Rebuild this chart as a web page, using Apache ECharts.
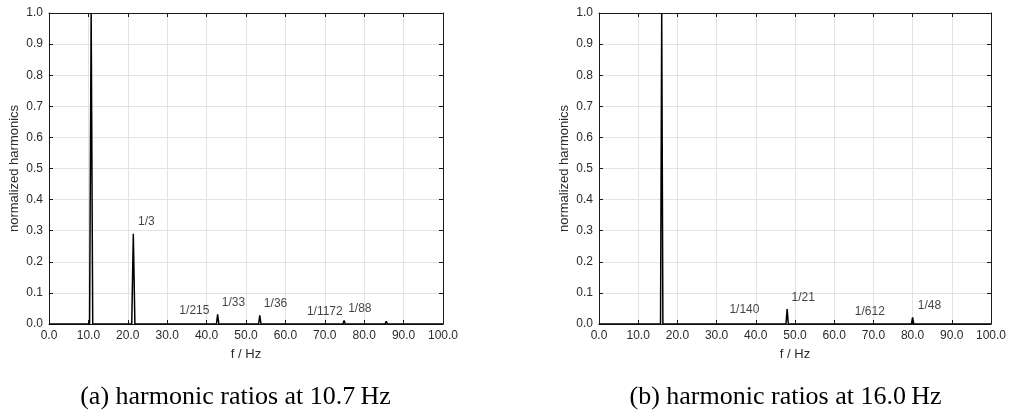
<!DOCTYPE html>
<html>
<head>
<meta charset="utf-8">
<script src="https://cdn.jsdelivr.net/npm/echarts@6/dist/echarts.min.js"></script>
<style>html,body{margin:0;padding:0;background:#fff;}#c{width:1009px;height:412px;}</style>
</head>
<body>
<div id="c"></div>
<script>
// ---- data: spectrum (a) at 10.7 Hz ----
const freqA = [0, 10.3, 10.7, 11.1, 21.0, 21.4, 21.8, 31.8, 32.1, 32.4, 42.5, 42.8, 43.1, 53.2, 53.5, 53.8, 63.9, 64.2, 64.5, 74.6, 74.9, 75.2, 85.3, 85.6, 85.9, 100];
const ampA  = [0, 0, 1.0, 0, 0, 0.29, 0, 0, 0.005, 0, 0, 0.031, 0, 0, 0.028, 0, 0, 0.001, 0, 0, 0.011, 0, 0, 0.009, 0, 0];
const labelsA  = ['1/3', '1/215', '1/33', '1/36', '1/1172', '1/88'];
const labelXA  = [24.7, 36.9, 46.8, 57.5, 70.0, 78.9];
const labelYA  = [0.328, 0.042, 0.068, 0.064, 0.039, 0.048];

// ---- data: spectrum (b) at 16.0 Hz ----
const freqB = [0, 15.7, 16.0, 16.3, 31.7, 32.0, 32.3, 47.7, 48.0, 48.3, 63.7, 64.0, 64.3, 79.7, 80.0, 80.3, 100];
const ampB  = [0, 0, 1.0, 0, 0, 0.006, 0, 0, 0.048, 0, 0, 0.0016, 0, 0, 0.021, 0, 0];
const labelsB  = ['1/140', '1/21', '1/612', '1/48'];
const labelXB  = [37.1, 52.1, 69.1, 84.3];
const labelYB  = [0.045, 0.085, 0.038, 0.059];

// ---- axes ticks ----
const xMin = 0, xMax = 100, xStep = 10;
const yMin = 0, yMax = 1, yStep = 0.1;
const xName = 'f / Hz';
const yName = 'normalized harmonics';
const captions = ['(a) harmonic ratios at 10.7\u2009Hz', '(b) harmonic ratios at 16.0\u2009Hz'];

const FONT = 'Liberation Sans';
const axisLineColor = '#1a1a1a';
const gridColor = '#e3e3e3';
const textColor = '#2b2b2b';

function xAxes(gi) {
  return [
    {
      type: 'value', gridIndex: gi, min: xMin, max: xMax, interval: xStep, position: 'bottom',
      name: xName, nameLocation: 'middle', nameGap: 24,
      nameTextStyle: { fontFamily: FONT, fontSize: 13, color: textColor },
      axisLine: { show: true, onZero: false, lineStyle: { color: axisLineColor, width: 1 } },
      axisTick: { show: true, inside: true, length: 4, lineStyle: { color: axisLineColor } },
      axisLabel: { fontFamily: FONT, fontSize: 12, color: textColor, margin: 6, formatter: v => v.toFixed(1) },
      splitLine: { show: true, lineStyle: { color: gridColor, width: 1 } }
    },
    {
      type: 'value', gridIndex: gi, min: xMin, max: xMax, interval: xStep, position: 'top',
      axisLine: { show: true, onZero: false, lineStyle: { color: axisLineColor, width: 1 } },
      axisTick: { show: true, inside: true, length: 4, lineStyle: { color: axisLineColor } },
      axisLabel: { show: false }, splitLine: { show: false }
    }
  ];
}
function yAxes(gi) {
  return [
    {
      type: 'value', gridIndex: gi, min: yMin, max: yMax, interval: yStep, position: 'left',
      name: yName, nameLocation: 'middle', nameGap: 28,
      nameTextStyle: { fontFamily: FONT, fontSize: 13, color: textColor },
      axisLine: { show: true, onZero: false, lineStyle: { color: axisLineColor, width: 1 } },
      axisTick: { show: true, inside: true, length: 4, lineStyle: { color: axisLineColor } },
      axisLabel: { fontFamily: FONT, fontSize: 12, color: textColor, margin: 6, formatter: v => v.toFixed(1) },
      splitLine: { show: true, lineStyle: { color: gridColor, width: 1 } }
    },
    {
      type: 'value', gridIndex: gi, min: yMin, max: yMax, interval: yStep, position: 'right',
      axisLine: { show: true, onZero: false, lineStyle: { color: axisLineColor, width: 1 } },
      axisTick: { show: true, inside: true, length: 4, lineStyle: { color: axisLineColor } },
      axisLabel: { show: false }, splitLine: { show: false }
    }
  ];
}
function zip(a, b) { return a.map((v, i) => [v, b[i]]); }
function labelSeries(xi, yi, xs, ys, names) {
  return {
    type: 'scatter', xAxisIndex: xi, yAxisIndex: yi, symbolSize: 2,
    itemStyle: { color: 'rgba(0,0,0,0)' },
    z: 5, silent: true,
    data: xs.map((x, i) => ({ value: [x, ys[i]], name: names[i] })),
    label: { show: true, position: 'inside', formatter: p => p.name,
      fontFamily: FONT, fontSize: 12, color: '#111' }
  };
}

const chart = echarts.init(document.getElementById('c'), null, { renderer: 'canvas' });
chart.setOption({
  backgroundColor: '#ffffff',
  animation: false,
  grid: [
    { left: 49, top: 13, width: 394, height: 311, containLabel: false },
    { left: 599, top: 13, width: 394, height: 311, containLabel: false }
  ],
  xAxis: [...xAxes(0), ...xAxes(1)],
  yAxis: [...yAxes(0), ...yAxes(1)],
  series: [
    { type: 'line', xAxisIndex: 0, yAxisIndex: 0, data: zip(freqA, ampA), showSymbol: false,
      lineStyle: { color: '#000', width: 1.5, join: 'bevel' }, z: 3 },
    { type: 'line', xAxisIndex: 2, yAxisIndex: 2, data: zip(freqB, ampB), showSymbol: false,
      lineStyle: { color: '#000', width: 1.5, join: 'bevel' }, z: 3 },
    labelSeries(0, 0, labelXA, labelYA, labelsA),
    labelSeries(2, 2, labelXB, labelYB, labelsB)
  ],
  graphic: [
    { type: 'text', x: 235.5, y: 397, style: { text: captions[0], fontFamily: 'Liberation Serif', fontSize: 26, fill: '#000', textAlign: 'center', textVerticalAlign: 'middle' } },
    { type: 'text', x: 785.5, y: 397, style: { text: captions[1], fontFamily: 'Liberation Serif', fontSize: 26, fill: '#000', textAlign: 'center', textVerticalAlign: 'middle' } }
  ]
});
</script>
</body>
</html>
